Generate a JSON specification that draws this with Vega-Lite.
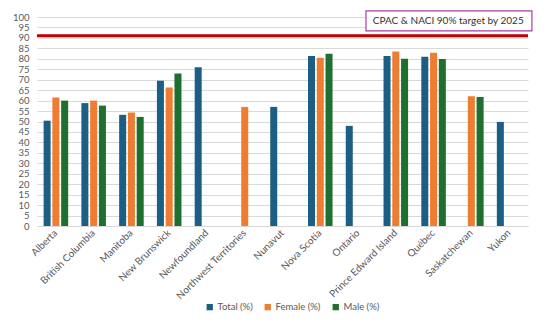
{
  "$schema": "https://vega.github.io/schema/vega-lite/v6.json",
  "width": 491,
  "height": 209,
  "autosize": {"type": "none"},
  "padding": {"left": 37, "top": 17, "right": 22, "bottom": 102},
  "background": "white",
  "config": {
    "view": {"stroke": null},
    "font": "Lato",
    "axis": {"labelColor": "#595959", "labelFont": "Lato", "labelFontSize": 9.5, "gridColor": "#d9d9d9", "domainColor": "#d9d9d9", "ticks": false}
  },
  "datasets": {
    "bars": [
      {"region": "Alberta", "group": "Total (%)", "value": 50.4},
      {"region": "Alberta", "group": "Female (%)", "value": 61.5},
      {"region": "Alberta", "group": "Male (%)", "value": 60.0},
      {"region": "British Columbia", "group": "Total (%)", "value": 58.8},
      {"region": "British Columbia", "group": "Female (%)", "value": 60.0},
      {"region": "British Columbia", "group": "Male (%)", "value": 57.6},
      {"region": "Manitoba", "group": "Total (%)", "value": 53.2},
      {"region": "Manitoba", "group": "Female (%)", "value": 54.3},
      {"region": "Manitoba", "group": "Male (%)", "value": 52.2},
      {"region": "New Brunswick", "group": "Total (%)", "value": 69.5},
      {"region": "New Brunswick", "group": "Female (%)", "value": 66.3},
      {"region": "New Brunswick", "group": "Male (%)", "value": 73.0},
      {"region": "Newfoundland", "group": "Total (%)", "value": 76.0},
      {"region": "Northwest Territories", "group": "Female (%)", "value": 57.0},
      {"region": "Nunavut", "group": "Total (%)", "value": 57.0},
      {"region": "Nova Scotia", "group": "Total (%)", "value": 81.3},
      {"region": "Nova Scotia", "group": "Female (%)", "value": 80.5},
      {"region": "Nova Scotia", "group": "Male (%)", "value": 82.4},
      {"region": "Ontario", "group": "Total (%)", "value": 47.9},
      {"region": "Prince Edward Island", "group": "Total (%)", "value": 81.3},
      {"region": "Prince Edward Island", "group": "Female (%)", "value": 83.5},
      {"region": "Prince Edward Island", "group": "Male (%)", "value": 80.0},
      {"region": "Québec", "group": "Total (%)", "value": 81.0},
      {"region": "Québec", "group": "Female (%)", "value": 82.9},
      {"region": "Québec", "group": "Male (%)", "value": 79.9},
      {"region": "Saskatchewan", "group": "Female (%)", "value": 62.1},
      {"region": "Saskatchewan", "group": "Male (%)", "value": 61.7},
      {"region": "Yukon", "group": "Total (%)", "value": 49.8}
    ],
    "target": [{"value": 91, "label": "CPAC & NACI 90% target by 2025", "bx": 0.67, "bx2": 1.008, "by": 102.9, "by2": 93.4, "tx": 0.684, "ty": 98.1}]
  },
  "layer": [
    {
      "data": {"name": "bars"},
      "mark": {"type": "bar"},
      "encoding": {
        "x": {
          "field": "region", "type": "nominal", "sort": null,
          "scale": {"paddingInner": 0.35, "paddingOuter": 0.175},
          "axis": {"title": null, "labelAngle": -45, "labelAlign": "right", "labelBaseline": "middle", "labelPadding": 5, "labelFontSize": 10, "grid": false, "domain": true}
        },
        "xOffset": {
          "field": "group", "type": "nominal",
          "scale": {"domain": ["Total (%)", "Female (%)", "Male (%)"], "paddingInner": 0.2, "paddingOuter": 0}
        },
        "y": {
          "field": "value", "type": "quantitative",
          "scale": {"domain": [0, 100], "nice": false},
          "axis": {"title": null, "values": [0,5,10,15,20,25,30,35,40,45,50,55,60,65,70,75,80,85,90,95,100], "domain": false, "labelPadding": 8}
        },
        "color": {
          "field": "group", "type": "nominal",
          "scale": {"domain": ["Total (%)", "Female (%)", "Male (%)"], "range": ["#1c5f85", "#ee7d31", "#1f7030"]},
          "legend": {"title": null, "orient": "none", "direction": "horizontal", "legendX": 168, "legendY": 285, "symbolType": "square", "symbolSize": 40, "symbolStrokeWidth": 0, "labelFontSize": 9.5, "labelColor": "#595959", "labelFont": "Lato", "columnPadding": 10, "labelOffset": 3}
        }
      }
    },
    {
      "data": {"name": "target"},
      "mark": {"type": "rule", "color": "#c00000", "strokeWidth": 3},
      "encoding": {"y": {"field": "value", "type": "quantitative", "axis": {"title": null, "values": [0,5,10,15,20,25,30,35,40,45,50,55,60,65,70,75,80,85,90,95,100], "domain": false, "labelPadding": 8}}}
    },
    {
      "data": {"name": "target"},
      "mark": {"type": "rect", "fill": "white", "stroke": "#a63fa6", "strokeWidth": 1.2, "clip": false},
      "encoding": {
        "x": {"field": "bx", "type": "quantitative", "scale": {"domain": [0, 1]}, "axis": null},
        "x2": {"field": "bx2"},
        "y": {"field": "by", "type": "quantitative", "axis": {"title": null, "values": [0,5,10,15,20,25,30,35,40,45,50,55,60,65,70,75,80,85,90,95,100], "domain": false, "labelPadding": 8}},
        "y2": {"field": "by2"}
      }
    },
    {
      "data": {"name": "target"},
      "mark": {"type": "text", "align": "left", "baseline": "middle", "fontSize": 10, "color": "#333333", "font": "Lato"},
      "encoding": {
        "x": {"field": "tx", "type": "quantitative", "scale": {"domain": [0, 1]}, "axis": null},
        "y": {"field": "ty", "type": "quantitative", "axis": {"title": null, "values": [0,5,10,15,20,25,30,35,40,45,50,55,60,65,70,75,80,85,90,95,100], "domain": false, "labelPadding": 8}},
        "text": {"field": "label"}
      }
    }
  ],
  "resolve": {"scale": {"x": "independent"}}
}
